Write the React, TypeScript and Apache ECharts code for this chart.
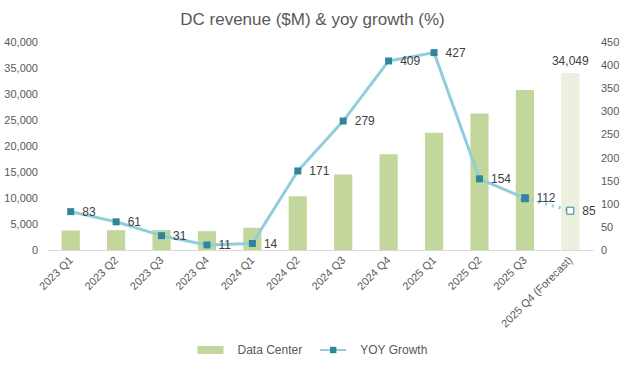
import React, { useEffect, useRef } from "react";
import * as echarts from "echarts";

const categories = [
  "2023 Q1", "2023 Q2", "2023 Q3", "2023 Q4",
  "2024 Q1", "2024 Q2", "2024 Q3", "2024 Q4",
  "2025 Q1", "2025 Q2", "2025 Q3", "2025 Q4 (Forecast)",
];
const dcRevenue = [3750, 3806, 3833, 3616, 4284, 10323, 14514, 18404, 22563, 26272, 30771, 34049];
const yoyGrowth = [83, 61, 31, 11, 14, 171, 279, 409, 427, 154, 112, 85];
const forecastIndex = 11;

const FONT = "'Liberation Sans', Arial, sans-serif";
const TXT = "#595959";

export default function App() {
  const ref = useRef<HTMLDivElement>(null);
  useEffect(() => {
    document.body.style.margin = "0";
    if (!ref.current) return;
    const chart = echarts.init(ref.current, undefined, { renderer: "svg" });
    const barData = dcRevenue.map((v, i) =>
      i === forecastIndex
        ? {
            value: v,
            itemStyle: { color: "#EBF1DE" },
            label: {
              show: true,
              position: "top",
              distance: 6,
              color: "#404040",
              fontSize: 12,
              fontFamily: FONT,
              formatter: (p: any) => p.value.toLocaleString("en-US"),
            },
          }
        : v
    );
    const solidLine = yoyGrowth.map((v, i) => (i < forecastIndex ? v : null));
    const dottedLine = yoyGrowth.map((v, i) => (i >= forecastIndex - 1 ? v : null));
    chart.setOption({
      animation: false,
      textStyle: { fontFamily: FONT },
      title: {
        text: "DC revenue ($M) & yoy growth (%)",
        left: "center",
        top: 6,
        textStyle: { fontFamily: FONT, fontSize: 17, fontWeight: "normal", color: TXT },
      },
      grid: { left: 48, right: 32, top: 42, bottom: 119, containLabel: false },
      legend: {
        bottom: 8,
        left: "center",
        itemGap: 17,
        itemWidth: 26,
        itemHeight: 8,
        data: [
          { name: "Data Center", icon: "rect" },
          { name: "YOY Growth" },
        ],
        textStyle: { color: TXT, fontSize: 12, fontFamily: FONT, padding: [0, 0, 0, 9] },
      },
      xAxis: {
        type: "category",
        data: categories,
        axisLine: { lineStyle: { color: "#D9D9D9", width: 1 } },
        axisTick: { show: false },
        axisLabel: { rotate: 45, color: TXT, fontSize: 11, fontFamily: FONT, interval: 0, margin: 8 },
      },
      yAxis: [
        {
          type: "value",
          min: 0,
          max: 40000,
          interval: 5000,
          splitLine: { show: false },
          axisLine: { show: false },
          axisTick: { show: false },
          axisLabel: {
            color: TXT,
            fontSize: 11,
            fontFamily: FONT,
            margin: 10,
            formatter: (v: number) => v.toLocaleString("en-US"),
          },
        },
        {
          type: "value",
          min: 0,
          max: 450,
          interval: 50,
          splitLine: { show: false },
          axisLine: { show: false },
          axisTick: { show: false },
          axisLabel: { color: TXT, fontSize: 11, fontFamily: FONT, margin: 8 },
        },
      ],
      series: [
        {
          name: "Data Center",
          type: "bar",
          data: barData,
          barWidth: "40%",
          itemStyle: { color: "#C3D69B" },
          yAxisIndex: 0,
        },
        {
          name: "YOY Growth",
          type: "line",
          yAxisIndex: 1,
          data: solidLine,
          symbol: "rect",
          symbolSize: 7,
          lineStyle: { color: "#92CDDC", width: 3 },
          itemStyle: { color: "#31849B" },
          label: {
            show: true,
            position: "right",
            distance: 8,
            color: "#404040",
            fontSize: 12,
            fontFamily: FONT,
          },
          z: 3,
        },
        {
          name: "YOY Forecast",
          type: "line",
          yAxisIndex: 1,
          data: dottedLine,
          symbol: "rect",
          symbolSize: 7,
          showSymbol: true,
          lineStyle: { color: "#92CDDC", width: 3, type: [2, 5] },
          itemStyle: { color: "#FFFFFF", borderColor: "#31849B", borderWidth: 1 },
          label: {
            show: true,
            position: "right",
            distance: 8,
            color: "#404040",
            fontSize: 12,
            fontFamily: FONT,
            formatter: (p: any) => (p.dataIndex === forecastIndex ? String(p.value) : ""),
          },
          z: 2,
        },
      ],
    });
    return () => chart.dispose();
  }, []);
  return <div ref={ref} style={{ width: 625, height: 369 }} />;
}
